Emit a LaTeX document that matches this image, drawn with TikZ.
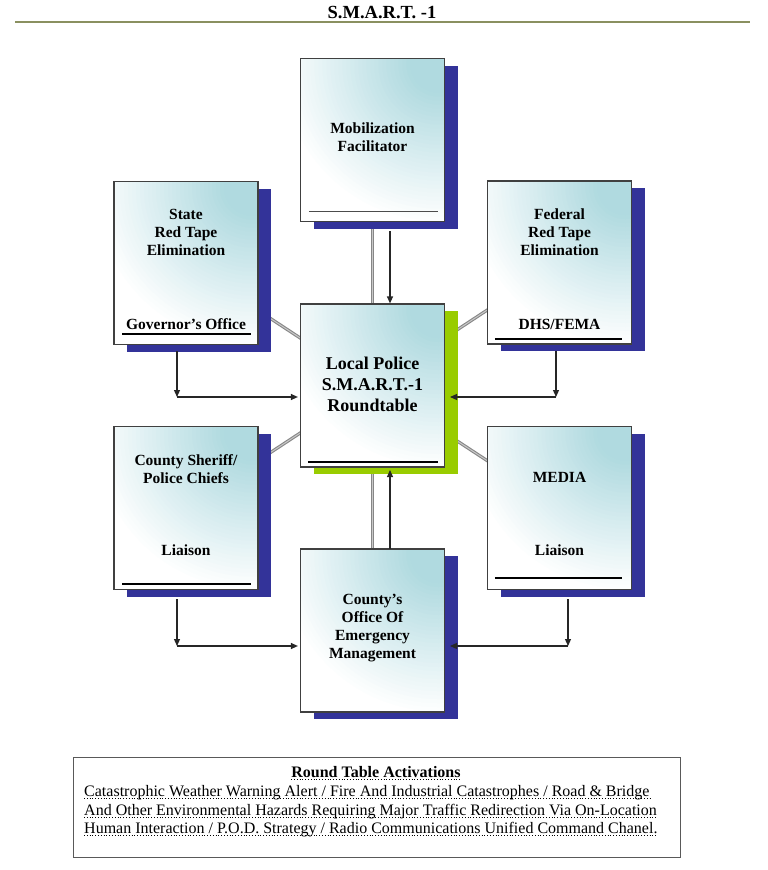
\documentclass[tikz,border=0pt]{standalone}
\usepackage{fontspec}
\setmainfont{Liberation Serif}
\usetikzlibrary{arrows.meta,shadows,backgrounds}
\definecolor{boxteal}{RGB}{176,218,224}
\definecolor{shadowblue}{RGB}{51,51,153}
\definecolor{limeshadow}{RGB}{153,204,0}
\definecolor{ruleolive}{RGB}{138,144,96}
\definecolor{boxborder}{RGB}{64,64,64}
\definecolor{linkgray}{RGB}{135,135,135}
\definecolor{linklight}{RGB}{200,200,200}
\begin{document}
\begin{tikzpicture}[x=1pt,y=-1pt,
  box/.style={draw=boxborder, line width=1.2pt, minimum width=144pt, minimum height=163pt,
    inner sep=0pt, fill=white,
    path picture={
      \coordinate (pc) at ([xshift=-6pt,yshift=-6pt]path picture bounding box.north east);
      \foreach \r in {160,156,...,24}{
        \pgfmathsetmacro\pct{min(100,100*(160-\r)/130)}
        \fill[boxteal!\pct!white] (pc) circle (\r pt);
      }},
    general shadow={fill=#1, shadow xshift=13pt, shadow yshift=-7pt}},
  box/.default=shadowblue,
  lbl/.style={font=\bfseries\fontsize{15.5}{18}\selectfont, align=center, inner sep=0pt},
  biglbl/.style={font=\bfseries\fontsize{18}{21}\selectfont, align=center, inner sep=0pt},
  arr/.style={draw=black!85, line width=1.2pt, -{Triangle[length=7pt,width=6pt]}},
  link/.style={draw=linkgray, line width=3.2pt},
  linkin/.style={draw=linklight, line width=1pt},
  ubar/.style={draw=black, line width=2pt},
  ubarthin/.style={draw=black!70, line width=1.2pt},
  bodytxt/.style={font=\fontsize{16}{19}\selectfont, anchor=base west, inner sep=0pt},
  dotline/.style={dotted, line width=0.8pt}
]
\useasboundingbox (0,0) rectangle (768,870);

% title
\node[font=\bfseries\fontsize{18.5}{21}\selectfont, anchor=base, inner sep=0pt] (title) at (382,19) {S.M.A.R.T. -1};
\coordinate (rl) at (15,22);
\coordinate (rr) at (750,22);
\draw[ruleolive, line width=2.5pt] (rl) -- (rr);

% boxes
\node[box] (mob) at (372.5,140) {};
\node[box] (state) at (186,263) {};
\node[box] (fed) at (559.5,262.5) {};
\node[box=limeshadow] (cen) at (372.5,385.5) {};
\node[box] (sher) at (186,508) {};
\node[box] (media) at (559.5,508) {};
\node[box] (oem) at (372.5,630.5) {};

% center-to-center links behind
\begin{scope}[on background layer]
\foreach \n in {mob,state,fed,sher,media,oem}{
  \draw[link] (\n.center) -- (cen.center);
  \draw[linkin] (\n.center) -- (cen.center);
}
\end{scope}

% inner bars
\draw[ubarthin] ([xshift=9pt,yshift=11pt]mob.south west) -- ([xshift=-7pt,yshift=11pt]mob.south east);
\draw[ubar] ([xshift=9pt,yshift=11pt]state.south west) -- ([xshift=-8pt,yshift=11pt]state.south east);
\draw[ubar] ([xshift=8pt,yshift=6pt]fed.south west) -- ([xshift=-10pt,yshift=6pt]fed.south east);
\draw[ubar] ([xshift=8pt,yshift=6pt]cen.south west) -- ([xshift=-7pt,yshift=6pt]cen.south east);
\draw[ubar] ([xshift=9pt,yshift=6pt]sher.south west) -- ([xshift=-8pt,yshift=6pt]sher.south east);
\draw[ubar] ([xshift=8pt,yshift=12pt]media.south west) -- ([xshift=-10pt,yshift=12pt]media.south east);

% labels
\node[lbl] (tmob) at (372.5,137) {Mobilization\\Facilitator};
\node[lbl] (tstate) at (186,232) {State\\Red Tape\\Elimination};
\node[lbl] (tgov) at (186,324) {Governor’s Office};
\node[lbl] (tfed) at (559.5,232) {Federal\\Red Tape\\Elimination};
\node[lbl] (tdhs) at (559.5,324) {DHS/FEMA};
\node[biglbl] (tcen) at (372.5,384) {Local Police\\S.M.A.R.T.-1\\Roundtable};
\node[lbl] (tsher) at (186,469) {County Sheriff/\\Police Chiefs};
\node[lbl] (tsherl) at (186,550) {Liaison};
\node[lbl] (tmedia) at (559.5,477) {MEDIA};
\node[lbl] (tmedial) at (559.5,550) {Liaison};
\node[lbl] (toem) at (372.5,628) {County’s\\Office Of\\Emergency\\Management};

% arrows
\coordinate (a1) at (390,231);
\draw[arr] (a1) -- (a1 |- cen.north);
\coordinate (a2) at (390,549);
\coordinate (a2t) at (390,470);
\draw[arr] (a2) -- (a2t);

\coordinate (s1) at (177,351);
\coordinate (s2) at (177,397);
\draw[arr] (s1) -- (s2);
\draw[arr, shorten >=2pt] (s2) -- (s2 -| cen.west);

\coordinate (f1) at (556,351);
\coordinate (f2) at (556,397);
\coordinate (f3) at (450,397);
\draw[arr] (f1) -- (f2);
\draw[arr] (f2) -- (f3);

\coordinate (c1) at (177,599);
\coordinate (c2) at (177,646);
\draw[arr] (c1) -- (c2);
\draw[arr, shorten >=2pt] (c2) -- (c2 -| oem.west);

\coordinate (m1) at (568,599);
\coordinate (m2) at (568,646);
\coordinate (m3) at (450,646);
\draw[arr] (m1) -- (m2);
\draw[arr] (m2) -- (m3);

% legend box
\node[draw=black!65, line width=1pt, minimum width=607pt, minimum height=100pt, inner sep=0pt] (legend) at (376.5,807) {};
\node[font=\bfseries\fontsize{16}{19}\selectfont, anchor=base, inner sep=0pt] (lt) at (376,777) {Round Table Activations};
\node[bodytxt] (l1) at (84,796) {Catastrophic Weather Warning Alert / Fire And Industrial Catastrophes / Road \& Bridge};
\node[bodytxt] (l2) at (84,815) {And Other Environmental Hazards Requiring Major Traffic Redirection Via On-Location};
\node[bodytxt] (l3) at (84,833) {Human Interaction / P.O.D. Strategy / Radio Communications Unified Command Chanel.};
\foreach \n in {lt,l1,l2,l3}{
  \draw[dotline] ([yshift=-2.5pt]\n.base west) -- ([yshift=-2.5pt]\n.base east);
}
\end{tikzpicture}
\end{document}
